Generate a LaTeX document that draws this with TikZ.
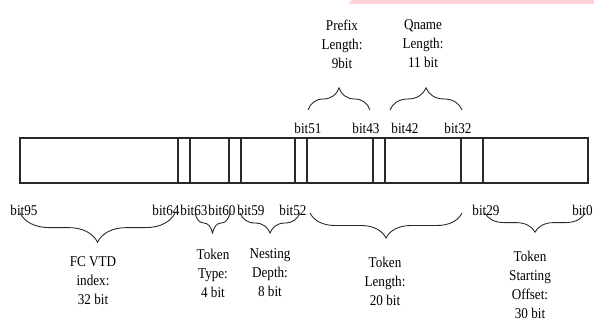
\documentclass[tikz,border=0pt]{standalone}
\usepackage{fontspec}
\setmainfont{Liberation Serif}[FakeStretch=0.88]
\usepackage{xcolor}
\usepackage{tikz}
\usetikzlibrary{decorations.pathreplacing, calc}

\definecolor{bandpink}{RGB}{255,210,214}
\definecolor{linegray}{RGB}{40,40,40}

\begin{document}
\begin{tikzpicture}[
    x=0.024cm, y=-0.024cm,
    bitlbl/.style={font=\fontsize{10.2}{13}\selectfont, inner sep=0pt},
    fieldlbl/.style={font=\fontsize{10.2}{13}\selectfont, align=center, inner sep=0pt},
    brc/.style={decorate, draw=linegray, line width=0.6pt},
]
\useasboundingbox (0,0) rectangle (594,326);

% pink band at the top edge
\fill[bandpink] (352,0) -- (594,0) -- (594,4) -- (348,4) -- cycle;

% the 96-bit word
\draw[linegray, line width=0.7pt] (20,138) rectangle (588,183);
\foreach \x in {178,190,229,241,295,307,373,385,461,483}
    \draw[linegray, line width=0.7pt] (\x,138) -- (\x,183);

% bit numbers below the word
\node[bitlbl] (b95) at (24,210) {bit95};
\node[bitlbl] (b64) at (166,210) {bit64};
\node[bitlbl] (b63) at (194,210) {bit63};
\node[bitlbl] (b60) at (222,210) {bit60};
\node[bitlbl] (b59) at (251,210) {bit59};
\node[bitlbl] (b52) at (293,210) {bit52};
\node[bitlbl] (b29) at (486,210) {bit29};
\node[bitlbl, anchor=east] (b0) at (593,210) {bit0};

% bit numbers above the word
\node[bitlbl] (b51) at (308,128) {bit51};
\node[bitlbl] (b43) at (366,128) {bit43};
\node[bitlbl] (b42) at (405,128) {bit42};
\node[bitlbl] (b32) at (458,128) {bit32};

% upper braces
\draw[brc, decoration={brace, amplitude=0.53cm}] (308,110) -- (370,110);
\draw[brc, decoration={brace, amplitude=0.53cm}] (390,110) -- (462,110);
\node[fieldlbl] (prefix) at (342,44) {Prefix\\Length:\\9bit};
\node[fieldlbl] (qname) at (423,44) {Qname\\Length:\\11 bit};

% lower braces
\draw[brc, decoration={brace, mirror, amplitude=0.70cm}] (20,213) -- (175,213);
\draw[brc, decoration={brace, mirror, amplitude=0.48cm}] (195,213) -- (230,213);
\draw[brc, decoration={brace, mirror, amplitude=0.48cm}] (240,213) -- (300,213);
\draw[brc, decoration={brace, mirror, amplitude=0.60cm}] (310,213) -- (462,213);
\draw[brc, decoration={brace, mirror, amplitude=0.46cm}] (485,213) -- (585,213);

\node[fieldlbl] (fcvtd) at (93,281) {FC VTD\\index:\\32 bit};
\node[fieldlbl] (ttype) at (213,273) {Token\\Type:\\4 bit};
\node[fieldlbl] (depth) at (270,273) {Nesting\\Depth:\\8 bit};
\node[fieldlbl] (tlen) at (385,281) {Token\\Length:\\20 bit};
\node[fieldlbl] (toff) at (530,285) {Token\\Starting\\Offset:\\30 bit};

\end{tikzpicture}
\end{document}
